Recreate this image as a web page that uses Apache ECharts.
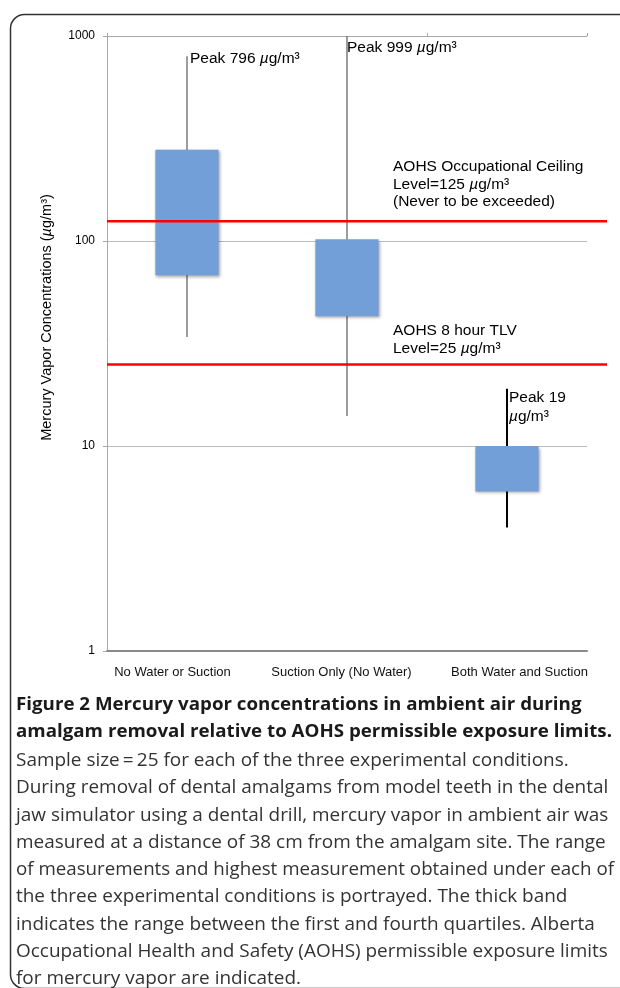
<!DOCTYPE html>
<html><head><meta charset="utf-8">
<script src="https://cdn.jsdelivr.net/npm/echarts@6/dist/echarts.min.js"></script>
<style>html,body{margin:0;padding:0;background:#fff}#c{width:620px;height:988px}</style>
</head><body><div id="c"></div>
<script>
const categories = ['No Water or Suction', 'Suction Only (No Water)', 'Both Water and Suction'];
const minValues = [34, 14, 4];
const q1Values = [68, 43, 6];
const q3Values = [279, 102, 10];
const peakValues = [796, 999, 19];
const ceilingLimit = 125;
const tlvLimit = 25;
const yMin = 1, yMax = 1000;
const captionBold = [
  'Figure 2 Mercury vapor concentrations in ambient air during',
  'amalgam removal relative to AOHS permissible exposure limits.'
];
const captionLines = [
  'Sample size\u2009=\u200925 for each of the three experimental conditions.',
  'During removal of dental amalgams from model teeth in the dental',
  'jaw simulator using a dental drill, mercury vapor in ambient air was',
  'measured at a distance of 38 cm from the amalgam site. The range',
  'of measurements and highest measurement obtained under each of',
  'the three experimental conditions is portrayed. The thick band',
  'indicates the range between the first and fourth quartiles. Alberta',
  'Occupational Health and Safety (AOHS) permissible exposure limits',
  'for mercury vapor are indicated.'
];

const FONT = '"Liberation Sans", Arial, sans-serif';
const CAP = '"Open Sans", "Noto Sans", sans-serif';
const cv = document.createElement('canvas').getContext('2d');
function mw(t, f) { cv.font = f; return cv.measureText(t).width; }
const boldSize = 18, regSize = 17.5;
const boldFont = 'bold ' + boldSize + 'px ' + CAP, regFont = regSize + 'px ' + CAP;
const boldScale = (612 - 16) / mw(captionBold[1], boldFont);
const fullLines = [1, 2, 3, 4, 6, 7];
const regScales = fullLines.map(k => (608 - 16) / mw(captionLines[k], regFont)).sort((a, b) => a - b);
const regScale = (regScales[2] + regScales[3]) / 2;

const rich = { i: { fontStyle: 'italic', fontFamily: FONT, fontSize: 15.5, color: '#000' } };
function note(x, y, text) {
  return { type: 'text', x: x, y: y, z: 50,
    style: { text: text, fontFamily: FONT, fontSize: 15.5, fill: '#000', verticalAlign: 'middle', rich: rich } };
}

const graphics = [
  { type: 'rect', left: 8, top: 12, z: 0, shape: { width: 660, height: 974, r: 14 },
    style: { fill: 'none', stroke: '#333', lineWidth: 1.5 } },
  note(190, 59, 'Peak 796 {i|\u00b5}g/m\u00b3'),
  note(347, 48, 'Peak 999 {i|\u00b5}g/m\u00b3'),
  note(393, 167, 'AOHS Occupational Ceiling'),
  note(393, 184.5, 'Level=125 {i|\u00b5}g/m\u00b3'),
  note(393, 202, '(Never to be exceeded)'),
  note(393, 331, 'AOHS 8 hour TLV'),
  note(393, 349, 'Level=25 {i|\u00b5}g/m\u00b3'),
  note(509, 398, 'Peak 19'),
  note(509, 417, '{i|\u00b5}g/m\u00b3')
];
captionBold.forEach((t, k) => {
  const w = mw(t, boldFont);
  const s = Math.min(boldScale, (613 - 16) / w);
  graphics.push({ type: 'text', x: 16, y: 705 + k * 27.3, scaleX: s,
    style: { text: t, fontFamily: CAP, fontWeight: 'bold', fontSize: boldSize, fill: '#1a1a1a', verticalAlign: 'middle' } });
});
captionLines.forEach((t, k) => {
  const w = mw(t, regFont);
  const s = Math.min(regScale, (614 - 16) / w);
  graphics.push({ type: 'text', x: 16, y: 761 + k * 27.3, scaleX: s,
    style: { text: t, fontFamily: CAP, fontSize: regSize, fill: '#333', verticalAlign: 'middle' } });
});

const chart = echarts.init(document.getElementById('c'), null, { renderer: 'canvas' });
chart.setOption({
  animation: false,
  backgroundColor: '#fff',
  grid: [
    { left: 107, right: 33, top: 36, bottom: 337 },
    { left: 107, right: 13, top: 36, bottom: 337 }
  ],
  xAxis: [
    { type: 'category', data: categories, gridIndex: 0, position: 'bottom',
      axisLine: { lineStyle: { color: '#8a8a8a', width: 2 } }, axisTick: { show: false },
      axisLabel: { interval: 0, fontFamily: FONT, fontSize: 13, color: '#111', margin: 15,
        formatter: function (v, i) { return '{c' + i + '|' + v + '}'; },
        rich: {
          c0: { fontFamily: FONT, fontSize: 13, color: '#111', padding: [0, 29, 0, 0] },
          c1: { fontFamily: FONT, fontSize: 13, color: '#111', padding: [0, 11, 0, 0] },
          c2: { fontFamily: FONT, fontSize: 13, color: '#111', padding: [0, 0, 0, 25] }
        } } },
    { type: 'category', data: categories, gridIndex: 0, position: 'top',
      axisLine: { lineStyle: { color: '#a8a8a8', width: 1 } },
      axisTick: { show: true, length: 3, lineStyle: { color: '#a8a8a8' } }, axisLabel: { show: false } },
    { type: 'value', gridIndex: 1, min: 0, max: 1, show: false }
  ],
  yAxis: [
    { type: 'log', logBase: 10, min: yMin, max: yMax, gridIndex: 0,
      name: 'Mercury Vapor Concentrations ({i|\u00b5}g/m\u00b3)', nameLocation: 'middle', nameGap: 53, nameRotate: 90,
      nameTextStyle: { fontFamily: FONT, fontSize: 14.5, color: '#000', padding: [0, 0, 0, 52],
        rich: { i: { fontStyle: 'italic', fontFamily: FONT, fontSize: 14.5, color: '#000' } } },
      axisLine: { show: true, lineStyle: { color: '#a8a8a8', width: 1 } },
      axisTick: { show: true, length: 4, lineStyle: { color: '#a8a8a8' } },
      axisLabel: { fontFamily: FONT, fontSize: 12, color: '#000', margin: 12,
        formatter: function (v) { return String(v); } },
      splitLine: { show: true, lineStyle: { color: '#bcbcbc', width: 1 } },
      minorTick: { show: false } },
    { type: 'log', logBase: 10, min: yMin, max: yMax, gridIndex: 1, show: false }
  ],
  series: [
    { type: 'custom', xAxisIndex: 0, yAxisIndex: 0, z: 5,
      data: categories.map((c, i) => [i, minValues[i], q1Values[i], q3Values[i], peakValues[i]]),
      encode: { x: 0, y: [1, 2, 3, 4] },
      renderItem: function (params, api) {
        const i = params.dataIndex;
        const x = api.value(0);
        const low = api.coord([x, api.value(1)]);
        const q1 = api.coord([x, api.value(2)]);
        const q3 = api.coord([x, api.value(3)]);
        const high = api.coord([x, api.value(4)]);
        const bw = api.size([1, 1])[0] * 0.395;
        const ws = i === 2 ? { stroke: '#000', lineWidth: 2 } : { stroke: '#5a5a5a', lineWidth: 1.2 };
        return { type: 'group', children: [
          { type: 'line', shape: { x1: low[0], y1: low[1], x2: high[0], y2: high[1] }, style: ws },
          { type: 'rect', shape: { x: q3[0] - bw / 2, y: q3[1], width: bw, height: q1[1] - q3[1] },
            style: { fill: '#729fd8', shadowBlur: 3, shadowOffsetX: 1, shadowOffsetY: 1.5, shadowColor: 'rgba(0,0,0,0.35)' } }
        ] };
      } },
    { type: 'line', xAxisIndex: 2, yAxisIndex: 1, z: 10, symbol: 'none',
      data: [[0, ceilingLimit], [1, ceilingLimit]], lineStyle: { color: '#ff0000', width: 2.5 } },
    { type: 'line', xAxisIndex: 2, yAxisIndex: 1, z: 10, symbol: 'none',
      data: [[0, tlvLimit], [1, tlvLimit]], lineStyle: { color: '#ff0000', width: 2.5 } }
  ],
  graphic: graphics
});
</script>
</body></html>
